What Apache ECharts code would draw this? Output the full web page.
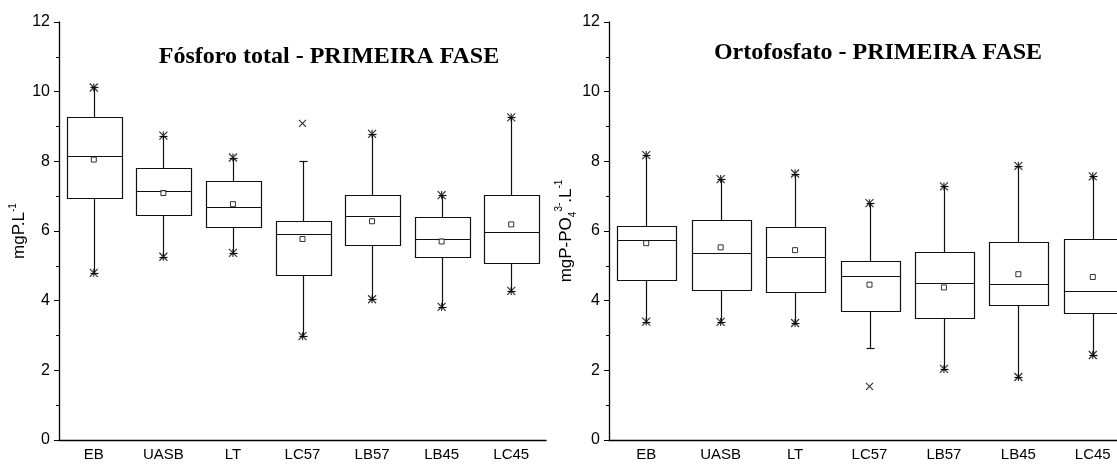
<!DOCTYPE html>
<html>
<head>
<meta charset="utf-8">
<script src="https://cdn.jsdelivr.net/npm/echarts@6/dist/echarts.min.js"></script>
<style>
  html, body { margin: 0; padding: 0; background: #fff; overflow: hidden; }
  #chart { width: 1130px; height: 469px; }
</style>
</head>
<body>
<div id="chart"></div>
<script>
var categories = ['EB', 'UASB', 'LT', 'LC57', 'LB57', 'LB45', 'LC45'];
var yTicks = [0, 2, 4, 6, 8, 10, 12];

// Fósforo total
var ptLow  = [4.80, 5.26, 5.37, 2.98, 4.04, 3.82, 4.28];
var ptQ1   = [6.94, 6.45, 6.11, 4.75, 5.61, 5.25, 5.09];
var ptMed  = [8.16, 7.16, 6.70, 5.90, 6.43, 5.77, 5.98];
var ptQ3   = [9.28, 7.81, 7.44, 6.29, 7.02, 6.41, 7.02];
var ptHigh = [10.12, 8.74, 8.11, 8.00, 8.79, 7.03, 9.26];
var ptMean = [8.05, 7.09, 6.77, 5.77, 6.28, 5.70, 6.19];
var ptStar = [[0, 10.12], [0, 4.80], [1, 8.74], [1, 5.26], [2, 8.11], [2, 5.37], [3, 2.98],
              [4, 8.79], [4, 4.04], [5, 7.03], [5, 3.82], [6, 9.26], [6, 4.28]];
var ptCross = [[3, 9.09]];

// Ortofosfato
var opLow  = [3.40, 3.39, 3.36, 2.64, 2.04, 1.81, 2.44];
var opQ1   = [4.59, 4.30, 4.25, 3.71, 3.51, 3.87, 3.64];
var opMed  = [5.73, 5.37, 5.24, 4.72, 4.52, 4.49, 4.28];
var opQ3   = [6.15, 6.33, 6.11, 5.15, 5.41, 5.68, 5.76];
var opHigh = [8.18, 7.49, 7.65, 6.80, 7.28, 7.87, 7.57];
var opMean = [5.65, 5.53, 5.45, 4.46, 4.38, 4.76, 4.68];
var opStar = [[0, 8.18], [0, 3.40], [1, 7.49], [1, 3.39], [2, 7.65], [2, 3.36], [3, 6.80],
              [4, 7.28], [4, 2.04], [5, 7.87], [5, 1.81], [6, 7.57], [6, 2.44]];
var opCross = [[3, 1.54]];

var STAR = 'path://M0,0L10,10M10,0L0,10M5,0L5,10';
var CROSS = 'path://M0,0L10,10M10,0L0,10';
var FONT = 'Liberation Sans, Arial, sans-serif';

function boxRows(low, q1, med, q3, high) {
  return categories.map(function (c, i) { return [i, low[i], q1[i], med[i], q3[i], high[i]]; });
}

function px(v) { return Math.round(v) + 0.5; }

function renderBox(params, api) {
  var i = api.value(0);
  var bw = api.size([1, 0])[0] * 0.8;
  var cx = px(api.coord([i, 0])[0]);
  var yLow = px(api.coord([i, api.value(1)])[1]);
  var yQ1 = px(api.coord([i, api.value(2)])[1]);
  var yMed = px(api.coord([i, api.value(3)])[1]);
  var yQ3 = px(api.coord([i, api.value(4)])[1]);
  var yHigh = px(api.coord([i, api.value(5)])[1]);
  var x0 = px(cx - bw / 2), x1 = px(cx + bw / 2);
  var st = { stroke: '#111', lineWidth: 1.2, fill: null };
  var cap = 4;
  return {
    type: 'group',
    children: [
      { type: 'line', shape: { x1: cx, y1: yQ3, x2: cx, y2: yHigh }, style: st },
      { type: 'line', shape: { x1: cx, y1: yQ1, x2: cx, y2: yLow }, style: st },
      { type: 'line', shape: { x1: cx - cap, y1: yHigh, x2: cx + cap, y2: yHigh }, style: st },
      { type: 'line', shape: { x1: cx - cap, y1: yLow, x2: cx + cap, y2: yLow }, style: st },
      { type: 'rect', shape: { x: x0, y: yQ3, width: x1 - x0, height: yQ1 - yQ3 },
        style: { stroke: '#111', lineWidth: 1.2, fill: '#fff' } },
      { type: 'line', shape: { x1: x0, y1: yMed, x2: x1, y2: yMed }, style: st }
    ]
  };
}

function panelSeries(idx, low, q1, med, q3, high, mean, star, cross) {
  return [
    {
      type: 'custom', xAxisIndex: idx, yAxisIndex: idx,
      renderItem: renderBox,
      encode: { x: 0, y: [1, 2, 3, 4, 5] },
      data: boxRows(low, q1, med, q3, high),
      silent: true
    },
    {
      type: 'scatter', xAxisIndex: idx, yAxisIndex: idx,
      symbol: 'rect', symbolSize: 5,
      itemStyle: { color: '#fff', borderColor: '#000', borderWidth: 1 },
      data: mean.map(function (v, i) { return [i, v]; }),
      z: 5
    },
    {
      type: 'scatter', xAxisIndex: idx, yAxisIndex: idx,
      symbol: STAR, symbolSize: 8,
      itemStyle: { color: 'none', borderColor: '#000', borderWidth: 1.2 },
      data: star, z: 5
    },
    {
      type: 'scatter', xAxisIndex: idx, yAxisIndex: idx,
      symbol: CROSS, symbolSize: 7,
      itemStyle: { color: 'none', borderColor: '#000', borderWidth: 1.2 },
      data: cross, z: 5
    }
  ];
}

function xAxisCfg(gi) {
  return {
    type: 'category', gridIndex: gi, data: categories,
    axisLine: { lineStyle: { color: '#000', width: 1.3 } },
    axisTick: { alignWithLabel: true, length: 5, lineStyle: { color: '#000' } },
    axisLabel: { color: '#000', fontFamily: FONT, fontSize: 15, margin: 7 },
    splitLine: { show: false }
  };
}

function yAxisCfg(gi, name, gap) {
  return {
    type: 'value', gridIndex: gi, min: yTicks[0], max: yTicks[yTicks.length - 1], interval: 2,
    name: name, nameLocation: 'middle', nameGap: gap, nameRotate: 90,
    nameTextStyle: {
      color: '#000', fontFamily: FONT, fontSize: 17,
      rich: {
        n: { fontFamily: FONT, fontSize: 17, color: '#000', lineHeight: 24 },
        sup: { fontFamily: FONT, fontSize: 10, color: '#000', verticalAlign: 'top', lineHeight: 12 },
        sub: { fontFamily: FONT, fontSize: 10, color: '#000', verticalAlign: 'bottom', lineHeight: 12 }
      }
    },
    axisLine: { show: true, lineStyle: { color: '#000', width: 1.3 } },
    axisTick: { show: true, length: 5, lineStyle: { color: '#000' } },
    minorTick: { show: true, splitNumber: 2, length: 3, lineStyle: { color: '#000' } },
    axisLabel: { color: '#000', fontFamily: FONT, fontSize: 16, margin: 9 },
    splitLine: { show: false }
  };
}

var chart = echarts.init(document.getElementById('chart'), null, { renderer: 'canvas' });
chart.setOption({
  backgroundColor: '#fff',
  animation: false,
  grid: [
    { left: 59, top: 22, width: 487, bottom: 29, outerBoundsMode: 'none' },
    { left: 609, top: 22, width: 521, bottom: 29, outerBoundsMode: 'none' }
  ],
  graphic: [
    { type: 'text', x: 329, y: 57, style: { text: 'Fósforo total - PRIMEIRA FASE', textAlign: 'center', textVerticalAlign: 'middle',
      font: 'bold 24px "Liberation Serif", "Times New Roman", serif', fill: '#000' } },
    { type: 'text', x: 878, y: 53, style: { text: 'Ortofosfato - PRIMEIRA FASE', textAlign: 'center', textVerticalAlign: 'middle',
      font: 'bold 24px "Liberation Serif", "Times New Roman", serif', fill: '#000' } }
  ],
  xAxis: [xAxisCfg(0), xAxisCfg(1)],
  yAxis: [
    yAxisCfg(0, '{n|mgP.L}{sup|-1}', 25),
    yAxisCfg(1, '{n|mgP-PO}{sub|4}{sup|3-}{n|.L}{sup|-1}', 30)
  ],
  series: [].concat(
    panelSeries(0, ptLow, ptQ1, ptMed, ptQ3, ptHigh, ptMean, ptStar, ptCross),
    panelSeries(1, opLow, opQ1, opMed, opQ3, opHigh, opMean, opStar, opCross)
  )
});
</script>
</body>
</html>
